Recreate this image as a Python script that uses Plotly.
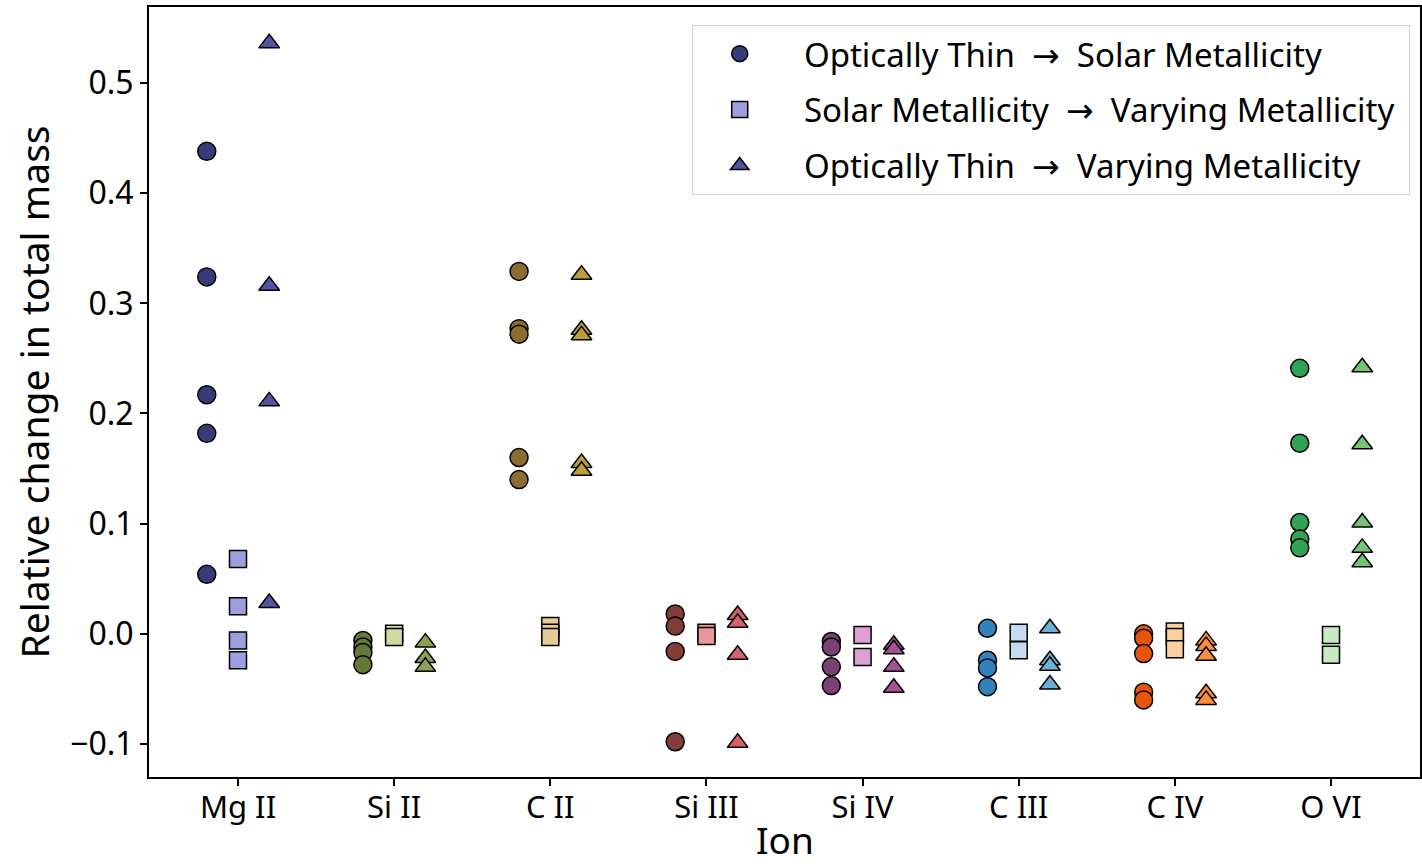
import plotly.graph_objects as go

ions = ["Mg II", "Si II", "C II", "Si III", "Si IV", "C III", "C IV", "O VI"]

NB = "\u00a0"
ARROW = NB * 2 + "<span style='font-family:DejaVu Sans'>\u2192</span>" + NB * 2
labels = [
    "Optically Thin" + ARROW + "Solar Metallicity",
    "Solar Metallicity" + ARROW + "Varying Metallicity",
    "Optically Thin" + ARROW + "Varying Metallicity",
]

# Relative change per ion, one list per run, for each comparison
thin_to_solar = {
    "Mg II": [0.438, 0.324, 0.217, 0.182, 0.054],
    "Si II": [-0.006, -0.012, -0.017, -0.028],
    "C II": [0.329, 0.277, 0.272, 0.160, 0.140],
    "Si III": [0.018, 0.007, -0.016, -0.098],
    "Si IV": [-0.007, -0.012, -0.030, -0.047],
    "C III": [0.005, -0.024, -0.031, -0.048],
    "C IV": [0.000, -0.004, -0.018, -0.053, -0.060],
    "O VI": [0.241, 0.173, 0.101, 0.086, 0.078],
}
solar_to_varying = {
    "Mg II": [0.068, 0.025, -0.006, -0.024],
    "Si II": [0.000, -0.003],
    "C II": [0.007, 0.001, -0.003],
    "Si III": [0.001, -0.002],
    "Si IV": [-0.001, -0.021],
    "C III": [0.001, -0.015],
    "C IV": [0.002, -0.003, -0.014],
    "O VI": [-0.001, -0.019],
}
thin_to_varying = {
    "Mg II": [0.536, 0.316, 0.211, 0.028],
    "Si II": [-0.008, -0.022, -0.030],
    "C II": [0.326, 0.276, 0.271, 0.155, 0.148],
    "Si III": [0.017, 0.010, -0.019, -0.099],
    "Si IV": [-0.010, -0.014, -0.030, -0.049],
    "C III": [0.005, -0.024, -0.029, -0.046],
    "C IV": [-0.006, -0.011, -0.020, -0.054, -0.060],
    "O VI": [0.242, 0.172, 0.101, 0.078, 0.065],
}

# colour per ion: (circle, square, triangle)
colors = {
    "Mg II": ("#393b79", "#9c9ede", "#5254a3"),
    "Si II": ("#637939", "#cedb9c", "#8ca252"),
    "C II": ("#8c6d31", "#e7cb94", "#bd9e39"),
    "Si III": ("#843c39", "#e7969c", "#d6616b"),
    "Si IV": ("#7b4173", "#de9ed6", "#a55194"),
    "C III": ("#3182bd", "#c6dbef", "#6baed6"),
    "C IV": ("#e6550d", "#fdd0a2", "#fd8d3c"),
    "O VI": ("#31a354", "#c7e9c0", "#74c476"),
}

offsets = [-0.2, 0.0, 0.2]
symbols = ["circle", "square", "triangle-up"]
datasets = [thin_to_solar, solar_to_varying, thin_to_varying]

fig = go.Figure()
for i, ion in enumerate(ions):
    for k in range(3):
        vals = datasets[k][ion]
        fig.add_trace(go.Scatter(
            x=[i + offsets[k]] * len(vals),
            y=vals,
            mode="markers",
            name=NB * 2 + labels[k] + NB,
            legendgroup=labels[k],
            showlegend=(i == 0),
            legendrank=k + 1,
            marker=dict(
                symbol=symbols[k],
                size=18 if k != 1 else 17,
                color=colors[ion][k],
                line=dict(color="black", width=1.5),
            ),
        ))

font = "Noto Sans, Open Sans, sans-serif"
fig.update_layout(
    width=1422,
    height=866,
    margin=dict(l=149, r=2, t=7, b=89, autoexpand=False),
    paper_bgcolor="white",
    plot_bgcolor="white",
    font=dict(family=font, color="black"),
    showlegend=True,
    legend=dict(
        x=0.427, y=0.977, xanchor="left", yanchor="top",
        bgcolor="white", bordercolor="#d0d0d0", borderwidth=1,
        font=dict(size=33, family=font),
        tracegroupgap=10,
        itemwidth=84,
    ),
    xaxis=dict(
        range=[-0.57, 7.57],
        tickmode="array",
        tickvals=list(range(len(ions))),
        ticktext=ions,
        ticks="outside", ticklen=7, tickwidth=1.5, tickcolor="black",
        ticklabelstandoff=-5,
        automargin=False,
        showline=True, linecolor="black", linewidth=2, mirror=True,
        showgrid=False, zeroline=False,
        tickfont=dict(size=31),
    ),
    yaxis=dict(
        range=[-0.13, 0.569],
        tickvals=[-0.1, 0.0, 0.1, 0.2, 0.3, 0.4, 0.5],
        tickformat=".1f",
        ticks="outside", ticklen=7, tickwidth=1.5, tickcolor="black",
        automargin=False,
        showline=True, linecolor="black", linewidth=2, mirror=True,
        showgrid=False, zeroline=False,
        tickfont=dict(size=32),
        title=dict(text="Relative change in total mass", font=dict(size=39), standoff=8),
    ),
    annotations=[dict(
        text="Ion", xref="paper", yref="paper", x=0.5, y=-0.1156,
        xanchor="center", yanchor="bottom", showarrow=False, borderpad=0,
        font=dict(size=37, family=font, color="black"),
    )],
)

fig.write_html("out.html")
